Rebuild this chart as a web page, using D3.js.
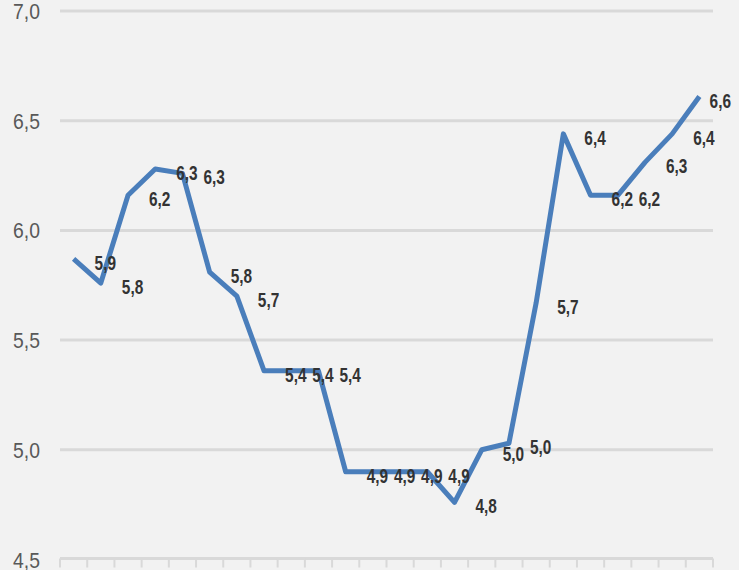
<!DOCTYPE html>
<html><head><meta charset="utf-8">
<script src="https://cdn.jsdelivr.net/npm/d3@7"></script>
<style>html,body{margin:0;padding:0;background:#f2f2f2;overflow:hidden}</style>
</head><body><svg id="c" width="739" height="570"></svg>
<script>
const categories = ["1","2","3","4","5","6","7","8","9","10","11","12","13","14","15","16","17","18","19","20","21","22","23","24"];
const values = [5.87, 5.76, 6.16, 6.28, 6.26, 5.81, 5.70, 5.36, 5.36, 5.36, 4.90, 4.90, 4.90, 4.90, 4.76, 5.00, 5.03, 5.67, 6.44, 6.16, 6.16, 6.31, 6.44, 6.61];
const yTicks = [4.5, 5.0, 5.5, 6.0, 6.5, 7.0];

const W = 739, H = 570;
const svg = d3.select("#c");
svg.append("rect").attr("width", W).attr("height", H).attr("fill", "#f2f2f2");

const x = d3.scaleBand().domain(categories).range([60, 713]);
const y = d3.scaleLinear().domain([4.5, 7.0]).range([559.5, 11]);
const fmt = v => d3.format(".1f")(v).replace(".", ",");
const cx = (d, i) => x(categories[i]) + x.bandwidth() / 2;

// gridlines
svg.append("g").selectAll("line").data(yTicks.slice(1)).join("line")
  .attr("x1", x.range()[0]).attr("x2", x.range()[1])
  .attr("y1", d => y(d)).attr("y2", d => y(d))
  .attr("stroke", "#d9d9d9").attr("stroke-width", 3);

// x axis baseline + ticks at band boundaries
const xa = svg.append("g");
xa.append("line").attr("x1", x.range()[0]).attr("x2", x.range()[1])
  .attr("y1", y(4.5) - 1).attr("y2", y(4.5) - 1)
  .attr("stroke", "#d9d9d9").attr("stroke-width", 3);
const bounds = categories.map(c => x(c)).concat([x.range()[1]]);
xa.selectAll("line.t").data(bounds).join("line").attr("class", "t")
  .attr("x1", d => d).attr("x2", d => d)
  .attr("y1", y(4.5) - 1).attr("y2", y(4.5) + 8)
  .attr("stroke", "#d9d9d9").attr("stroke-width", 2);

// y labels
svg.append("g").selectAll("text").data(yTicks).join("text")
  .attr("transform", d => `translate(40,${y(d) + 8}) scale(0.88,1)`)
  .attr("text-anchor", "end")
  .attr("font-family", "Liberation Sans, Arial, sans-serif")
  .attr("font-size", 22)
  .attr("fill", "#595959")
  .text(fmt);

// line
svg.append("path").datum(values)
  .attr("d", d3.line().x(cx).y(d => y(d)))
  .attr("fill", "none").attr("stroke", "#4a7ebb")
  .attr("stroke-width", 5).attr("stroke-linejoin", "round").attr("stroke-linecap", "butt");

// data labels
const sx = 0.79;
const lg = svg.append("g");
values.forEach((v, i) => {
  const t = lg.append("text")
    .attr("font-family", "Liberation Sans, Arial, sans-serif")
    .attr("font-weight", "bold")
    .attr("font-size", 19.5)
    .attr("fill", "#333333")
    .text(fmt(v));
  const w = t.node().getComputedTextLength() * sx;
  const lx = Math.min(cx(v, i) + 21, 731 - w);
  t.attr("transform", `translate(${lx},${y(v) + 11}) scale(${sx},1)`);
});
</script></body></html>
